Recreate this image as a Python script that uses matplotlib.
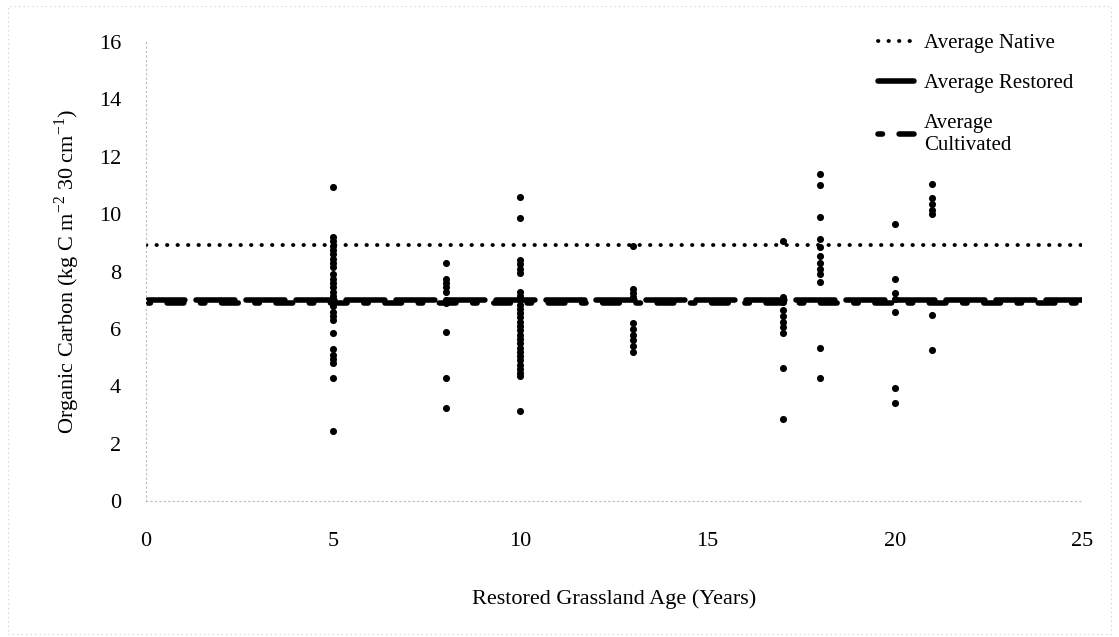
import numpy as np
import matplotlib.pyplot as plt
from matplotlib.patches import Rectangle

# Restored grassland sites: age (years) and organic carbon values
age_5 = [10.95, 9.2, 9.05, 8.9, 8.75, 8.6, 8.45, 8.3, 8.15, 7.9, 7.75, 7.6, 7.45,
         7.3, 7.15, 7.0, 6.8, 6.6, 6.45, 6.3, 5.85, 5.3, 5.1, 4.95, 4.8, 4.3, 2.45]
age_8 = [8.3, 7.75, 7.6, 7.45, 7.3, 7.0, 6.9, 5.9, 4.3, 3.25]
age_10 = [10.6, 9.85, 8.4, 8.25, 8.1, 7.95, 7.3, 7.15, 7.0, 6.85, 6.7, 6.55, 6.4,
          6.25, 6.1, 5.95, 5.8, 5.65, 5.5, 5.35, 5.2, 5.05, 4.9, 4.75, 4.6, 4.45,
          4.35, 3.15]
age_13 = [8.9, 7.4, 7.25, 7.1, 6.2, 6.0, 5.8, 5.6, 5.4, 5.2]
age_17 = [9.05, 7.1, 6.95, 6.65, 6.45, 6.25, 6.05, 5.85, 4.65, 2.85]
age_18 = [11.4, 11.0, 9.9, 9.15, 8.85, 8.55, 8.3, 8.1, 7.9, 7.65, 5.35, 4.3]
age_20 = [9.65, 7.75, 7.25, 7.05, 6.6, 3.95, 3.4]
age_21 = [11.05, 10.55, 10.35, 10.15, 10.0, 6.5, 5.25]

groups = {5: age_5, 8: age_8, 10: age_10, 13: age_13,
          17: age_17, 18: age_18, 20: age_20, 21: age_21}

# Averages drawn as horizontal reference lines
line_x = [0, 25]
avg_native = 8.92
avg_restored = 7.02
avg_cultivated = 6.9

plt.rcParams['font.family'] = ['Liberation Serif', 'DejaVu Serif']
plt.rcParams['mathtext.fontset'] = 'custom'
plt.rcParams['mathtext.rm'] = 'Liberation Serif'

fig = plt.figure(figsize=(11.19, 6.37), dpi=100)
ax = fig.add_axes([0.1305, 0.2135, 0.8365, 0.7205])

xs = np.concatenate([[k] * len(v) for k, v in groups.items()])
ys = np.concatenate([v for v in groups.values()])
ax.scatter(xs, ys, s=26, color='black', zorder=3, linewidths=0)

ax.plot(line_x, [avg_native] * 2, color='black', lw=2.8, linestyle=(0, (0.1, 2.6)),
        dash_capstyle='round', label='Average Native')
ax.plot(line_x, [avg_restored] * 2, color='black', lw=4, linestyle=(0, (7, 2)),
        dash_capstyle='round', label='Average Restored')
ax.plot(line_x, [avg_cultivated] * 2, color='black', lw=4,
        linestyle=(0, (0.8, 3, 3, 3)), dash_capstyle='round',
        label='Average\nCultivated')

ax.set_xlim(0, 25)
ax.set_ylim(0, 16)
ax.set_xticks([0, 5, 10, 15, 20, 25])
ax.set_yticks(np.arange(0, 17, 2))
ax.tick_params(labelsize=16, length=0)
ax.tick_params(axis='x', pad=22)
ax.tick_params(axis='y', pad=18)

for side in ['top', 'right']:
    ax.spines[side].set_visible(False)
for side in ['left', 'bottom']:
    ax.spines[side].set_color('#bbbbbb')
    ax.spines[side].set_linewidth(0.8)
    ax.spines[side].set_linestyle((0, (1, 3)))

ax.set_xlabel('Restored Grassland Age (Years)', fontsize=16, labelpad=28)
ax.set_ylabel(r'Organic Carbon (kg C m$^{\mathrm{-2}}$ 30 cm$^{\mathrm{-1}}$)',
              fontsize=16, labelpad=12)

leg = ax.legend(loc='upper right', bbox_to_anchor=(1.011, 1.06), frameon=False,
                fontsize=15, handlelength=1.7, labelspacing=1.0, handletextpad=0.5)

# faint page border as in the scanned original
fig.patches.append(Rectangle((0.007, 0.005), 0.986, 0.985, transform=fig.transFigure,
                             fill=False, edgecolor='#cccccc', lw=0.8,
                             linestyle=(0, (1, 3))))

fig.savefig('out.png', dpi=100)
